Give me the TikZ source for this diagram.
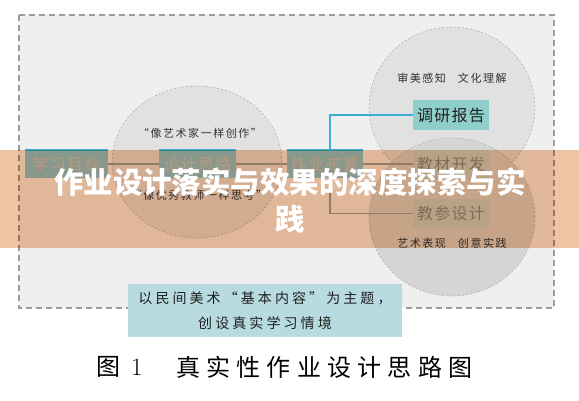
\documentclass[tikz,border=0pt]{standalone}
\usepackage{fontspec}
\newfontfamily\cjk{Noto Sans CJK SC}
\usetikzlibrary{positioning}

\definecolor{framegray}{HTML}{9C9C9C}
\definecolor{panelgray}{HTML}{EFEFEF}
\definecolor{bubblegray}{HTML}{E1E1E1}
\definecolor{bubbledark}{HTML}{D5D5D5}
\definecolor{bubbleline}{HTML}{B0B0B0}
\definecolor{tealbox}{HTML}{8ECFCC}
\definecolor{bluebox}{HTML}{92C6DC}
\definecolor{palebox}{HTML}{C4D3CF}
\definecolor{themefill}{HTML}{B7DBE0}
\definecolor{linkcyan}{HTML}{3AAED2}
\definecolor{linkgray}{HTML}{A0A0A0}
\definecolor{bandpeach}{HTML}{EFC4A4}

\tikzset{
  rowbox/.style={fill=bluebox, text=black!22, minimum height=28pt, inner sep=0pt,
    font=\cjk\fontsize{16}{16}\selectfont},
  sidebox/.style={fill=palebox, text=black!45, minimum width=76pt, minimum height=29pt, inner sep=0pt,
    font=\cjk\fontsize{16}{16}\selectfont},
  bubble/.style={fill=bubblegray, draw=bubbleline, line width=0.6pt, dash pattern=on 2pt off 2pt},
  scribble/.style={text=black!80, inner sep=0pt, font=\cjk\fontsize{11}{11}\selectfont},
  rowlink/.style={draw=linkgray, line width=1.5pt},
  uplink/.style={draw=linkcyan, line width=2pt},
  topedge/.style={draw=linkcyan, line width=1.6pt},
  caption/.style={inner sep=0pt, font=\cjk\fontsize{24}{24}\selectfont},
  titletext/.style={text=white, inner sep=0pt, font=\cjk\bfseries\fontsize{29.5}{29.5}\selectfont}
}

\begin{document}
\begin{tikzpicture}[x=1pt,y=-1pt]
\useasboundingbox (0,0) rectangle (579,400);
\fill[white] (0,0) rectangle (579,400);

% panel
\fill[panelgray] (19,15) rectangle (554,308);
\draw[framegray, line width=1.4pt, dash pattern=on 6pt off 4pt] (19,15) rectangle (554,308);

% bubbles
\draw[bubble] (197,162) ellipse [x radius=85pt, y radius=76pt];
\draw[bubble] (452,107) ellipse [x radius=83pt, y radius=80pt];
\draw[bubble, fill=bubbledark] (452,217) ellipse [x radius=83pt, y radius=79pt];

\node[scribble] (artist) at (200,133) {\addfontfeature{LetterSpace=14}“像艺术家一样创作”};
\node[scribble] (teacher) at (199,195) {\addfontfeature{LetterSpace=14}“像优秀教师一样思考”};
\node[scribble] (sense) at (452,78) {\addfontfeature{LetterSpace=14}审美感知\hspace{12pt}文化理解};
\node[scribble] (create) at (452,243) {\addfontfeature{LetterSpace=14}艺术表现\hspace{12pt}创意实践};

% main row
\node[rowbox, minimum width=83pt] (goal) at (66.5,164) {\addfontfeature{LetterSpace=8}学习目标};
\node[rowbox, minimum width=77pt] (idea) at (197.5,164) {\addfontfeature{LetterSpace=8}设计思路};
\node[rowbox, minimum width=76pt] (task) at (325,164) {\addfontfeature{LetterSpace=8}作业布置};
\node[sidebox] (book) at (451,164) {\addfontfeature{LetterSpace=8}教材开发};
\node[sidebox, fill=tealbox, text=black!88, minimum height=30pt] (report) at (451,115) {\addfontfeature{LetterSpace=8}调研报告};
\node[sidebox] (guide) at (451,213.5) {\addfontfeature{LetterSpace=8}教参设计};

\draw[rowlink] (goal) -- (idea);
\draw[rowlink] (idea) -- (task);
\draw[rowlink] (task) -- (book);
\draw[uplink] ([xshift=5pt]task.north) |- (report.west);
\draw[rowlink] ([xshift=5pt]task.south) |- (guide.west);

\draw[topedge] (goal.north west) -- (goal.north east);
\draw[topedge] (idea.north west) -- (idea.north east);
\draw[topedge] (task.north west) -- (task.north east);

% theme
\node[fill=themefill, minimum width=274pt, minimum height=53pt, inner sep=0pt, align=center,
  text=black!88, font=\cjk\fontsize{14}{25}\selectfont] (theme) at (265,310.5)
  {\addfontfeature{LetterSpace=22}以民间美术“基本内容”为主题，\\ \addfontfeature{LetterSpace=22}创设真实学习情境};

% caption
\node[caption, anchor=west] (capfig) at (96,367) {图\hspace{11pt}{\normalfont\fontsize{25}{25}\selectfont 1}};
\node[caption, anchor=west] (captitle) at (176,367) {\addfontfeature{LetterSpace=26}真实性作业设计思路图};

% band
\fill[bandpeach, blend mode=multiply] (0,150) rectangle (579,248);
\node[titletext] (title) at (290,182) {作业设计落实与效果的深度探索与实};
\node[titletext] (titleend) at (290,219) {践};
\end{tikzpicture}
\end{document}
